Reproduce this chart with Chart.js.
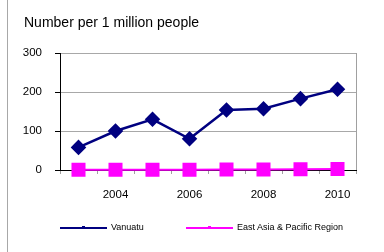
<!DOCTYPE html>
<html>
<head>
<meta charset="utf-8">
<script src="https://cdn.jsdelivr.net/npm/chart.js@4"></script>
<style>
  body { margin: 0; background: #fff; font-family: 'Liberation Sans', Arial, sans-serif; }
  #wrap { position: relative; width: 384px; height: 252px; }
  #frame { position: absolute; left: 7px; top: 0; width: 1px; height: 252px; background: #a8a8a8; }
  #title { position: absolute; left: 24px; top: 14px; font-size: 14px; color: #000; }
  .leg { position: absolute; top: 222px; font-size: 9px; color: #000; white-space: nowrap; }
  .leg .ln { position: absolute; top: 5px; height: 2px; width: 47px; }
  .leg .mk { position: absolute; top: 4px; left: 22px; width: 3px; height: 3px; }
</style>
</head>
<body>
<div id="wrap">
  <canvas id="graph" width="384" height="252"></canvas>
  <div id="frame"></div>
  <div id="title">Number per 1 million people</div>
  <div class="leg" style="left:60px">
    <div class="ln" style="background:#000080"></div><div class="mk" style="background:#000080"></div>
    <span style="margin-left:51px">Vanuatu</span>
  </div>
  <div class="leg" style="left:186px">
    <div class="ln" style="background:#ff00ff"></div><div class="mk" style="background:#ff00ff"></div>
    <span style="margin-left:51px">East Asia &amp; Pacific Region</span>
  </div>
</div>
<script>
// Chart data
const years = ['2003', '2004', '2005', '2006', '2007', '2008', '2009', '2010'];
const vanuatu = [58, 100, 130, 80, 154, 157, 183, 207];
const eastAsiaPacific = [0.5, 0.6, 0.7, 0.8, 1, 1.3, 1.8, 2.5];
const yTicks = [0, 100, 200, 300];

// right edge of plot area
const plotBorder = {
  id: 'plotBorder',
  beforeDatasetsDraw(chart) {
    const { ctx, chartArea } = chart;
    ctx.save();
    ctx.strokeStyle = '#a0a0a0';
    ctx.lineWidth = 1;
    ctx.beginPath();
    ctx.moveTo(Math.round(chartArea.right) + 0.5, chartArea.top);
    ctx.lineTo(Math.round(chartArea.right) + 0.5, chartArea.bottom);
    ctx.stroke();
    ctx.restore();
  },
};

const ctx = document.getElementById('graph').getContext('2d');
const chart = new Chart(ctx, {
  type: 'line',
  data: {
    labels: years,
    datasets: [
      {
        label: 'Vanuatu',
        data: vanuatu,
        borderColor: '#000080',
        backgroundColor: '#000080',
        borderWidth: 2.5,
        pointStyle: 'rectRot',
        pointRadius: 6,
        pointHoverRadius: 6,
        tension: 0,
        clip: false,
        order: 1,
      },
      {
        label: 'East Asia & Pacific Region',
        data: eastAsiaPacific,
        borderColor: '#ff00ff',
        backgroundColor: '#ff00ff',
        borderWidth: 2,
        pointStyle: 'rect',
        pointRadius: 8.5,
        pointHoverRadius: 8.5,
        tension: 0,
        clip: false,
        order: 0,
      },
    ],
  },
  plugins: [plotBorder],
  options: {
    responsive: false,
    animation: false,
    layout: { padding: { left: 0, right: 28, top: 53, bottom: 0 } },
    plugins: { legend: { display: false }, tooltip: { enabled: false } },
    scales: {
      x: {
        offset: true,
        afterFit(scale) { scale.height = 82; },
        grid: {
          offset: true,
          drawOnChartArea: false,
          tickLength: 4,
          color: '#a0a0a0',
        },
        border: { color: '#000', width: 1 },
        ticks: {
          color: '#000',
          padding: 14,
          maxRotation: 0,
          autoSkip: false,
          font: { family: "'Liberation Sans', Arial", size: 11.5 },
          callback(value, index) {
            return Number(years[index]) % 2 === 0 ? years[index] : '';
          },
        },
      },
      y: {
        min: yTicks[0],
        max: yTicks[yTicks.length - 1],
        afterFit(scale) { scale.width = 60; },
        afterBuildTicks(scale) { scale.ticks = yTicks.map((v) => ({ value: v })); },
        grid: { color: '#a8a8a8', tickColor: '#000', tickLength: 5 },
        border: { color: '#000', width: 1 },
        ticks: {
          color: '#000',
          padding: 13,
          font: { family: "'Liberation Sans', Arial", size: 11.5 },
        },
      },
    },
  },
});
</script>
</body>
</html>
